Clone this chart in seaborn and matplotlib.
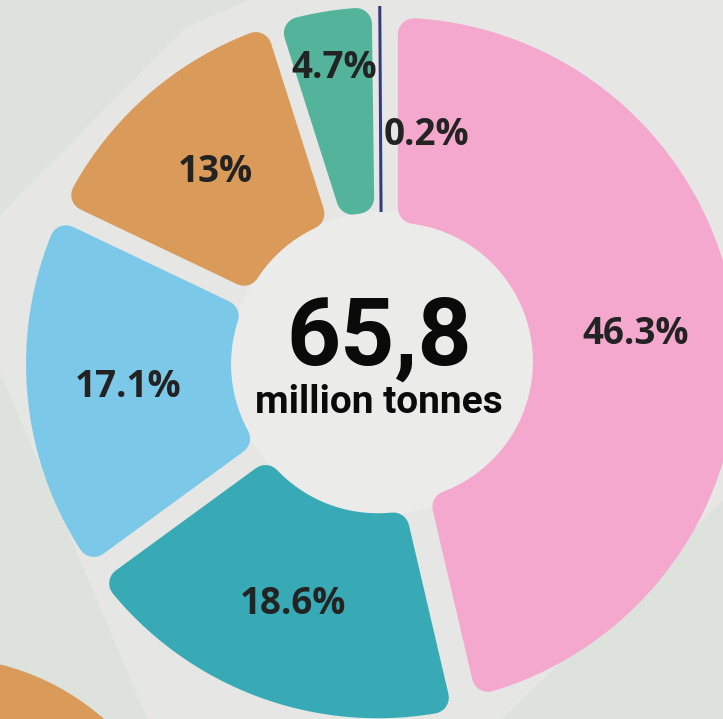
import numpy as np
import matplotlib
matplotlib.use("Agg")
import matplotlib.pyplot as plt
import seaborn as sns
from matplotlib.patches import Polygon, Circle

# ---------------- data ----------------
categories = ["Segment A", "Segment B", "Segment C", "Segment D", "Segment E", "Segment F"]
values = [46.3, 18.6, 17.1, 13.0, 4.7, 0.2]
labels = ["46.3%", "18.6%", "17.1%", "13%", "4.7%", "0.2%"]
total_text = "65,8"
unit_text = "million tonnes"

# ---------------- style ----------------
sns.set_theme(style="white")
plt.rcParams["font.family"] = ["Open Sans", "DejaVu Sans"]
palette = sns.color_palette(["#F5A8CD", "#37AAB5", "#7CC8E8", "#D99A5A", "#53B49B", "#353A78"])

W, H = 723, 719
cx, cy = 382, 363          # donut centre (pixels)
R_out, R_in = 344, 139     # radii
explode = 12               # offset of each slice along its bisector
half_gap = 4               # half gap between slices
corner = 16                # corner rounding radius
label_r = [255, 257, 255, 254, 299, 228]
label_ha = ["center", "center", "center", "center", "center", "left"]
label_dx = [0, 0, 0, 0, 0, 3]

fig = plt.figure(figsize=(W / 100, H / 100), dpi=100)
fig.patch.set_facecolor("#dde3dc")
ax = fig.add_axes([0, 0, 1, 1])
ax.set_xlim(0, W)
ax.set_ylim(H, 0)
ax.axis("off")

# background collage
ax.add_patch(Polygon([(0, 215), (185, 28), (260, -5), (730, -5), (730, 493),
                      (497, 725), (150, 725), (0, 372)],
                     closed=True, facecolor="#e6e6e4", edgecolor="none", zorder=0))
ax.add_patch(Circle((cx, cy), 152, facecolor="#ebebea", edgecolor="none", zorder=0.5))
ax.add_patch(Circle((-60, 905), 248, facecolor="#D99A5A", edgecolor="none", zorder=1))

px2pt = 72 / 100.0


def pt(theta, rho, ox, oy):
    return ox + rho * np.sin(theta), oy - rho * np.cos(theta)


vals = np.array(values, dtype=float)
frac = vals / vals.sum()
edges = np.concatenate([[0], np.cumsum(frac)]) * 2 * np.pi

for i, (t1, t2) in enumerate(zip(edges[:-1], edges[1:])):
    tm = (t1 + t2) / 2
    ox, oy = pt(tm, explode, cx, cy)
    h = half_gap + corner
    Ro, Ri = R_out - corner, R_in + corner
    ao, ai = np.arcsin(h / Ro), np.arcsin(h / Ri)
    col = palette[i]
    if (t2 - t1) > 2 * ai:
        to = np.linspace(t1 + ao, t2 - ao, 200)
        ti = np.linspace(t2 - ai, t1 + ai, 100)
        xo, yo = pt(to, Ro, ox, oy)
        xi, yi = pt(ti, Ri, ox, oy)
        poly = Polygon(np.c_[np.r_[xo, xi], np.r_[yo, yi]], closed=True,
                       facecolor=col, edgecolor=col, linewidth=2 * corner * px2pt,
                       joinstyle="round", zorder=2)
        ax.add_patch(poly)
    else:
        x0, y0 = pt(tm, R_in, ox, oy)
        x1, y1 = pt(tm, R_out + 1, ox, oy)
        ax.plot([x0, x1], [y0, y1], color=col, linewidth=3 * px2pt,
                solid_capstyle="butt", zorder=2)
    lx, ly = pt(tm, label_r[i], cx, cy)
    ax.text(lx + label_dx[i], ly, labels[i], ha=label_ha[i], va="center",
            fontsize=26.5, fontweight="bold", color="#232323", zorder=3)

ax.text(379, 365, total_text, ha="center", va="baseline", fontsize=68,
        fontweight="bold", color="#0a0a0a", family=["Roboto", "DejaVu Sans"], zorder=3)
ax.text(379, 413, unit_text, ha="center", va="baseline", fontsize=28,
        fontweight="bold", color="#0a0a0a", family=["Roboto", "DejaVu Sans"], zorder=3)

fig.savefig("out.png", dpi=100)
